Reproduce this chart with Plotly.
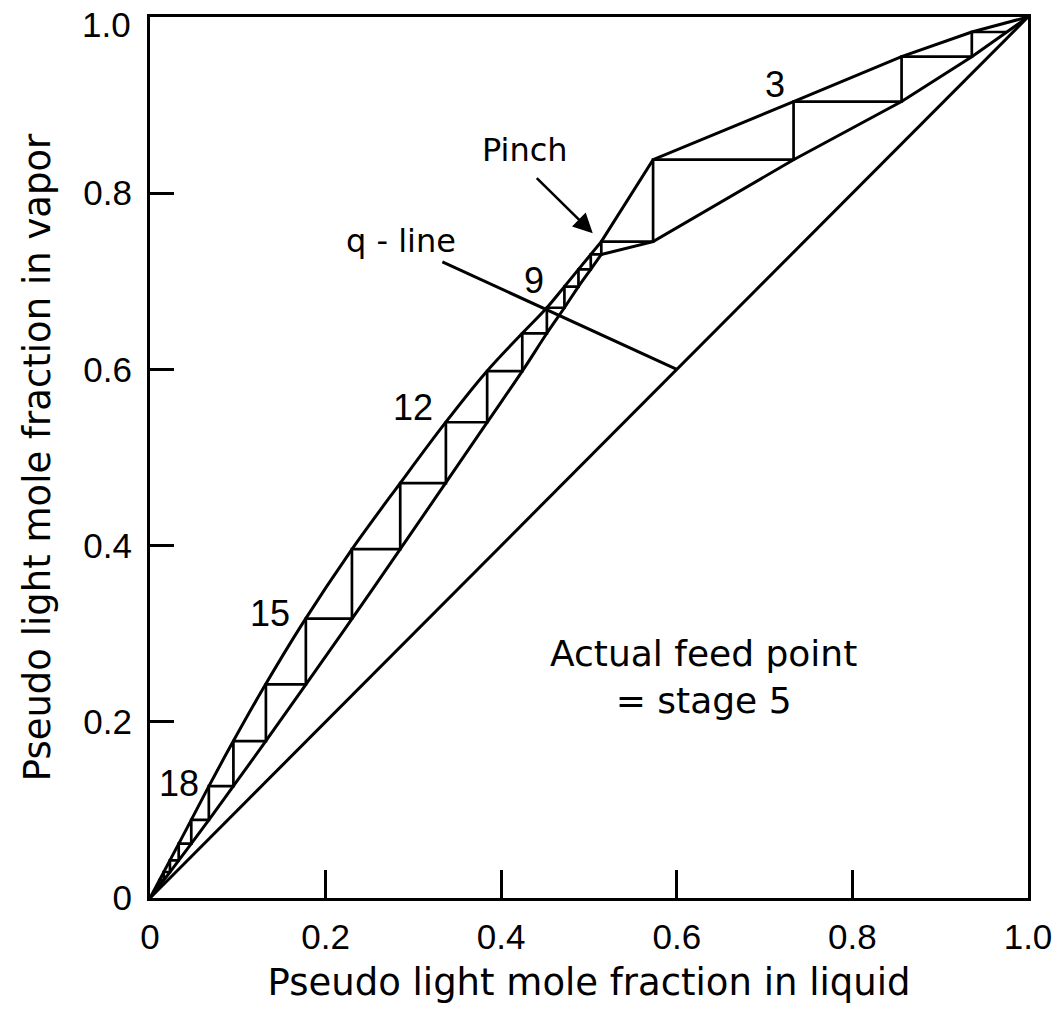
import numpy as np
import plotly.graph_objects as go

# Equilibrium curve below the feed stage (pseudo light component)
eq_x = [0, 0.026, 0.043, 0.065, 0.091, 0.129, 0.174, 0.228, 0.285, 0.336,
        0.382, 0.424, 0.452, 0.472, 0.488, 0.502, 0.514]
eq_y = [0, 0.049, 0.081, 0.123, 0.171, 0.238, 0.312, 0.393, 0.471, 0.539,
        0.596, 0.641, 0.670, 0.694, 0.7135, 0.7305, 0.745]

# Equilibrium curve above the feed stage
eq_top_x = [0.514, 0.573, 0.733, 0.856, 0.936, 1.0]
eq_top_y = [0.745, 0.838, 0.904, 0.955, 0.983, 1.0]

# Stripping-section operating line
op_strip_x = [0, 0.016, 0.027, 0.043, 0.065, 0.091, 0.129, 0.174, 0.228, 0.285,
              0.336, 0.382, 0.424, 0.452, 0.472, 0.488, 0.502, 0.514]
op_strip_y = [0, 0.0207, 0.0351, 0.0563, 0.0858, 0.1215, 0.174, 0.2375, 0.314, 0.396,
              0.470, 0.537, 0.598, 0.641, 0.670, 0.694, 0.7135, 0.7305]

# Rectifying-section operating line
op_rect_x = [0.514, 0.573, 0.733, 0.856, 0.936, 1.0]
op_rect_y = [0.7305, 0.745, 0.838, 0.904, 0.955, 1.0]

# Stage points on the equilibrium curve, stage 1 at the top
stage_x = [0.936, 0.856, 0.733, 0.573, 0.514, 0.502, 0.488, 0.472, 0.452, 0.424,
           0.384, 0.337, 0.285, 0.230, 0.1775, 0.132, 0.095, 0.067, 0.047, 0.0327,
           0.0227, 0.0156, 0.0107, 0.0073]
stage_y = [0.983, 0.955, 0.904, 0.838, 0.745, 0.7305, 0.7135, 0.694, 0.670, 0.641,
           0.598, 0.540, 0.471, 0.396, 0.317, 0.2425, 0.178, 0.127, 0.0887, 0.0617,
           0.0427, 0.0295, 0.0202, 0.0138]
labelled_stages = [3, 9, 12, 15, 18]
label_shift = {3: (-19, 17), 9: (-13, 27), 12: (-33, 15), 15: (-36, 5), 18: (-30, 3)}
pinch_stage = 5

# 45-degree line and q-line
diag = [0, 1]
q_x = [0.6, 0.333]
q_y = [0.6, 0.722]

tick_vals = [0, 0.2, 0.4, 0.6, 0.8, 1.0]
tick_text = ["0", "0.2", "0.4", "0.6", "0.8", "1.0"]

NUM_FONT = "Liberation Sans, Arial, sans-serif"
TXT_FONT = "DejaVu Sans, Verdana, sans-serif"

fig = go.Figure()


def add_line(x, y, width=3.0, shape="linear"):
    fig.add_trace(go.Scatter(
        x=x, y=y, mode="lines",
        line=dict(color="black", width=width, shape=shape, smoothing=1.0),
        hoverinfo="skip", showlegend=False))


add_line(diag, diag)
add_line(eq_x, eq_y, shape="spline")
add_line(eq_top_x, eq_top_y)
add_line(op_strip_x, op_strip_y, shape="spline")
add_line(op_rect_x, op_rect_y)
add_line(q_x, q_y)

# McCabe-Thiele staircase: horizontal to the equilibrium curve, vertical down to
# the operating line, starting where the first stage's vapour meets the top operating line
start_x = float(np.interp(stage_y[0], op_rect_y, op_rect_x))
sx, sy = [start_x], [stage_y[0]]
for i in range(len(stage_x)):
    sx.append(stage_x[i])
    sy.append(stage_y[i])
    if i + 1 < len(stage_y):
        sx.append(stage_x[i])
        sy.append(stage_y[i + 1])
add_line(sx, sy, width=2.7)

# Stage number labels
for n in labelled_stages:
    dx, dy = label_shift[n]
    fig.add_annotation(x=stage_x[n - 1], y=stage_y[n - 1], text=str(n),
                       showarrow=False, xshift=dx, yshift=dy,
                       font=dict(family=NUM_FONT, size=36, color="black"))

# Pinch arrow pointing at the feed stage
fig.add_annotation(x=stage_x[pinch_stage - 1], y=stage_y[pinch_stage - 1], text="",
                   showarrow=True, axref="pixel", ayref="pixel", ax=-66, ay=-65,
                   arrowhead=2, arrowsize=1.5, arrowwidth=2.6, arrowcolor="black",
                   standoff=12)
fig.add_annotation(x=0.478, y=0.849, text="Pinch", showarrow=False,
                   xanchor="right", yanchor="middle",
                   font=dict(family=TXT_FONT, size=32, color="black"))
fig.add_annotation(x=0.286, y=0.746, text="q - line", showarrow=False,
                   font=dict(family=TXT_FONT, size=32, color="black"))
fig.add_annotation(x=0.630, y=0.251, text="Actual feed point<br>= stage 5",
                   showarrow=False, align="center",
                   font=dict(family=TXT_FONT, size=36, color="black"))

axis_common = dict(
    range=[0, 1], showgrid=False, zeroline=False, automargin=False,
    showline=True, linecolor="black", linewidth=3, mirror=True,
    ticks="inside", tickcolor="black", tickwidth=2.5,
    tickmode="array", tickvals=tick_vals,
    tickfont=dict(family=NUM_FONT, size=35, color="black"),
    ticklabeloverflow="allow",
)

fig.update_xaxes(**axis_common, ticktext=tick_text, ticklen=28, ticklabelstandoff=6,
                 title=dict(text="Pseudo light mole fraction in liquid",
                            font=dict(family=TXT_FONT, size=37, color="black"),
                            standoff=15))
# the top y label sits just inside the figure edge, so it is placed separately below
fig.update_yaxes(**axis_common, ticktext=tick_text[:-1] + [""], ticklen=24,
                 ticklabelstandoff=8,
                 title=dict(text="Pseudo light mole fraction in vapor",
                            font=dict(family=TXT_FONT, size=37, color="black"),
                            standoff=22))
fig.add_annotation(x=0, y=tick_vals[-1], text=tick_text[-1], showarrow=False,
                   xanchor="right", yanchor="middle", xshift=-17, yshift=-7,
                   font=dict(family=NUM_FONT, size=35, color="black"))

fig.update_layout(
    width=1064, height=1016,
    margin=dict(l=150, r=36, t=17, b=118, pad=0),
    plot_bgcolor="white", paper_bgcolor="white",
    showlegend=False,
)

fig.write_html("out.html")
